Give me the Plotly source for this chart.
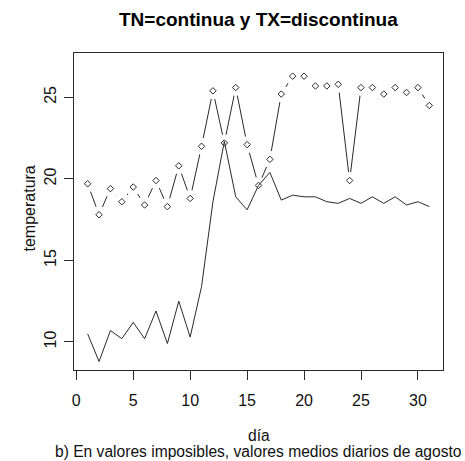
import plotly.graph_objects as go

dia = list(range(1, 32))
TN = [10.5, 8.8, 10.7, 10.2, 11.2, 10.2, 11.9, 9.9, 12.5, 10.3,
      13.4, 18.6, 22.3, 18.9, 18.1, 19.6, 20.4, 18.7, 19.0, 18.9,
      18.9, 18.6, 18.5, 18.8, 18.5, 18.9, 18.5, 18.9, 18.4, 18.6, 18.3]
TX = [19.7, 17.8, 19.4, 18.6, 19.5, 18.4, 19.9, 18.3, 20.8, 18.8,
      22.0, 25.4, 22.2, 25.6, 22.1, 19.6, 21.2, 25.2, 26.3, 26.3,
      25.7, 25.7, 25.8, 19.9, 25.6, 25.6, 25.2, 25.6, 25.3, 25.6, 24.5]
x_ticks = [0, 5, 10, 15, 20, 25, 30]
y_ticks = [10, 15, 20, 25]

FONT = "Arial, Liberation Sans, sans-serif"
INK = "#2a2a2a"

fig = go.Figure()
# TX: line with gaps around points (R type="b")
fig.add_trace(go.Scatter(x=dia, y=TX, mode="lines",
                         line=dict(color=INK, width=1), hoverinfo="skip"))
fig.add_trace(go.Scatter(x=dia, y=TX, mode="markers",
                         marker=dict(symbol="circle", size=17, color="white",
                                     line=dict(width=0)), hoverinfo="skip"))
fig.add_trace(go.Scatter(x=dia, y=TX, mode="markers",
                         marker=dict(symbol="diamond-open", size=5, color=INK,
                                     line=dict(width=1, color=INK))))
# TN: continuous line
fig.add_trace(go.Scatter(x=dia, y=TN, mode="lines",
                         line=dict(color=INK, width=1)))

axis_common = dict(showgrid=False, zeroline=False, showline=True, mirror=True,
                   linecolor=INK, linewidth=1, ticks="outside", ticklen=9,
                   tickwidth=1, tickcolor=INK,
                   tickfont=dict(family=FONT, size=16, color="#111"))
fig.update_xaxes(range=[-0.2, 32.2], tickvals=x_ticks, ticklabelstandoff=7,
                 **axis_common)
fig.update_yaxes(range=[8.28, 27.72], tickvals=y_ticks, tickangle=-90,
                 ticklabelstandoff=2, **axis_common)

fig.update_layout(
    width=465, height=461,
    margin=dict(l=74, r=22, t=53, b=91),
    paper_bgcolor="white", plot_bgcolor="white",
    showlegend=False,
    font=dict(family=FONT, size=16, color="#111"),
    annotations=[
        dict(text="<b>TN=continua y TX=discontinua</b>", xref="paper", yref="paper",
             x=0.5, y=1, yshift=34, xanchor="center", yanchor="middle",
             showarrow=False, font=dict(family=FONT, size=19, color="#000")),
        dict(text="día", xref="paper", yref="paper", x=0.5, y=0, yshift=-65,
             xanchor="center", yanchor="middle", showarrow=False,
             font=dict(family=FONT, size=15.6, color="#111")),
        dict(text="b) En valores imposibles, valores medios diarios de agosto",
             xref="paper", yref="paper", x=0.5, y=0, yshift=-81,
             xanchor="center", yanchor="middle", showarrow=False,
             font=dict(family=FONT, size=15.6, color="#111")),
        dict(text="temperatura", xref="paper", yref="paper", x=0, xshift=-45,
             y=0.5, yshift=3, xanchor="center", yanchor="middle", textangle=-90,
             showarrow=False, font=dict(family=FONT, size=16, color="#111")),
    ],
)

fig.write_html("out.html", config={"displayModeBar": False},
               post_script="document.body.style.margin='0';"
                           "document.body.style.overflow='hidden';")
